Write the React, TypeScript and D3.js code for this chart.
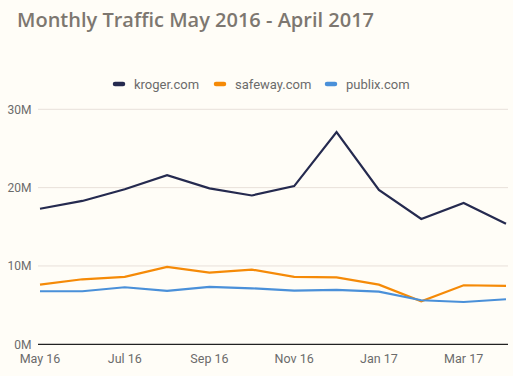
import React from "react";
import * as d3 from "d3";

const months = ["May 16","Jun 16","Jul 16","Aug 16","Sep 16","Oct 16","Nov 16","Dec 16","Jan 17","Feb 17","Mar 17","Apr 17"];
const tickMonths = ["May 16","Jul 16","Sep 16","Nov 16","Jan 17","Mar 17"];
const kroger = [17.3,18.3,19.8,21.6,19.9,19.0,20.2,27.1,19.7,16.0,18.05,15.4];
const safeway = [7.62,8.3,8.6,9.87,9.15,9.54,8.62,8.55,7.62,5.5,7.54,7.45];
const publix = [6.77,6.77,7.28,6.81,7.32,7.15,6.86,6.94,6.73,5.62,5.4,5.75];
const yTicks = [0,10,20,30];

const series = [
  { name: "kroger.com", values: kroger, color: "#252a4f" },
  { name: "safeway.com", values: safeway, color: "#f58a07" },
  { name: "publix.com", values: publix, color: "#4a90d9" },
];

export default function App() {
  const W = 513, H = 376;
  const x = d3.scalePoint<string>().domain(months).range([40, 506]);
  const y = d3.scaleLinear().domain([0, 30]).range([344.3, 109.3]);
  const line = d3.line<number>().x((_, i) => x(months[i])!).y(d => y(d));
  const legendX = [113, 214, 325];
  return (
    <svg width={W} height={H} style={{ position: "absolute", left: 0, top: 0, background: "#fffdf7" }}>
      <rect width={W} height={H} fill="#fffdf7" />
      <text x={17} y={27} fontFamily="Open Sans" fontWeight={600} fontSize={20} fill="#7d7770">
        Monthly Traffic May 2016 - April 2017
      </text>
      {series.map((s, i) => (
        <g key={s.name}>
          <line x1={legendX[i] + 2} x2={legendX[i] + 10} y1={84} y2={84} stroke={s.color} strokeWidth={4.5} strokeLinecap="round" />
          <text x={legendX[i] + 21} y={88.5} fontFamily="Roboto" fontSize={13} fill="#6b6b6b">{s.name}</text>
        </g>
      ))}
      {yTicks.map(t => (
        <g key={t}>
          {t > 0 && <line x1={38} x2={508} y1={y(t)} y2={y(t)} stroke="#e8e0da" strokeWidth={1} />}
          <text x={31.5} y={y(t) + 4.3} textAnchor="end" fontFamily="Roboto" fontSize={12} fill="#6b6b6b">{t}M</text>
        </g>
      ))}
      {series.map(s => (
        <path key={s.name} d={line(s.values)!} fill="none" stroke={s.color} strokeWidth={2.2} strokeLinejoin="miter" />
      ))}
      <line x1={38} x2={508} y1={y(0)} y2={y(0)} stroke="#222" strokeWidth={1.3} />
      {tickMonths.map(m => (
        <text key={m} x={x(m)!} y={362.5} textAnchor="middle" fontFamily="Roboto" fontSize={12.5} fill="#6b6b6b">{m}</text>
      ))}
    </svg>
  );
}
